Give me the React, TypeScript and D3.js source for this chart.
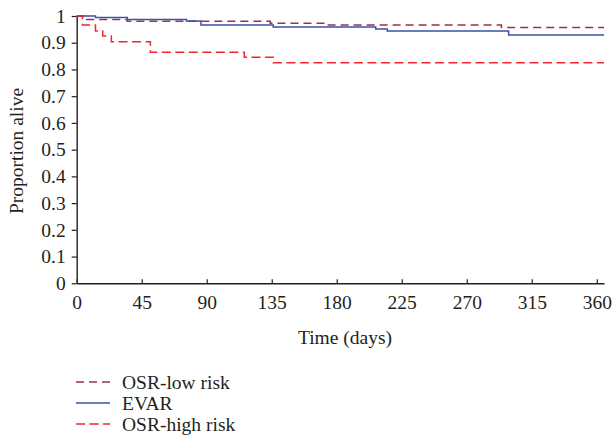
import React, { useEffect, useRef } from 'react';
import * as d3 from 'd3';

// survival steps (time in days, proportion alive)
const osrLowTimes = [0, 7, 35, 134, 171, 294, 365];
const osrLowValues = [1, 0.987, 0.98, 0.973, 0.966, 0.957, 0.957];

const evarTimes = [0, 13, 35, 76, 86, 136, 207, 215, 299, 365];
const evarValues = [1, 0.994, 0.987, 0.981, 0.966, 0.959, 0.951, 0.944, 0.929, 0.929];

const osrHighTimes = [0, 4, 13, 18, 24, 51, 116, 136, 365];
const osrHighValues = [1, 0.966, 0.944, 0.925, 0.904, 0.864, 0.846, 0.825, 0.825];

const xTicks = [0, 45, 90, 135, 180, 225, 270, 315, 360];
const yTicks = [0, 0.1, 0.2, 0.3, 0.4, 0.5, 0.6, 0.7, 0.8, 0.9, 1];

const seriesNames = ['OSR-low risk', 'EVAR', 'OSR-high risk'];

const W = 613;
const H = 446;
const FONT = '"Liberation Serif", "Times New Roman", serif';
const FS = '19.5px';
const INK = '#231f20';

const App = () => {
  const svgRef = useRef<SVGSVGElement>(null);

  useEffect(() => {
    const svg = d3.select(svgRef.current);
    svg.selectAll('*').remove();

    const x = d3.scaleLinear().domain([0, 365]).range([76.7, 604]);
    const y = d3.scaleLinear().domain([0, 1]).range([283.3, 16]);

    const series = [
      { name: seriesNames[0], t: osrLowTimes, v: osrLowValues, color: '#9b2d5e', dash: '8,5' },
      { name: seriesNames[1], t: evarTimes, v: evarValues, color: '#3a53a4', dash: null },
      { name: seriesNames[2], t: osrHighTimes, v: osrHighValues, color: '#f0262d', dash: '9,4.5' },
    ];

    const line = d3
      .line<[number, number]>()
      .x(d => x(d[0]))
      .y(d => y(d[1]))
      .curve(d3.curveStepAfter);

    // axes
    const xAxis = d3
      .axisBottom(x)
      .tickValues(xTicks)
      .tickSizeInner(-4)
      .tickSizeOuter(0)
      .tickPadding(12)
      .tickFormat(d3.format('d'));

    const yAxis = d3
      .axisLeft(y)
      .tickValues(yTicks)
      .tickSizeInner(5)
      .tickSizeOuter(0)
      .tickPadding(6)
      .tickFormat(d => (d === 0 || d === 1 ? String(d) : d3.format('.1f')(d as number)));

    const gx = svg.append('g').attr('transform', `translate(0,${y(0)})`).call(xAxis);
    const gy = svg.append('g').attr('transform', `translate(${x(0)},0)`).call(yAxis);

    [gx, gy].forEach(g => {
      g.select('.domain').attr('stroke', INK).attr('stroke-width', 1.4);
      g.selectAll('.tick line').attr('stroke', INK).attr('stroke-width', 1.2);
      g.selectAll('.tick text')
        .attr('fill', INK)
        .style('font-family', FONT)
        .style('font-size', FS);
    });

    // curves
    series.forEach(s => {
      const pts: [number, number][] = s.t.map((t, i) => [t, s.v[i]]);
      svg
        .append('path')
        .datum(pts)
        .attr('d', line)
        .attr('fill', 'none')
        .attr('stroke', s.color)
        .attr('stroke-width', 1.5)
        .attr('stroke-dasharray', s.dash);
    });

    // axis titles
    svg
      .append('text')
      .attr('x', 345)
      .attr('y', 344)
      .attr('text-anchor', 'middle')
      .attr('fill', INK)
      .style('font-family', FONT)
      .style('font-size', FS)
      .text('Time (days)');

    svg
      .append('text')
      .attr('transform', 'translate(23,151) rotate(-90)')
      .attr('text-anchor', 'middle')
      .attr('fill', INK)
      .style('font-family', FONT)
      .style('font-size', FS)
      .text('Proportion alive');

    // legend
    const legend = svg
      .selectAll('.legend')
      .data(series)
      .join('g')
      .attr('class', 'legend')
      .attr('transform', (_, i) => `translate(0,${382 + i * 21})`);

    legend
      .append('line')
      .attr('x1', 76)
      .attr('x2', 110)
      .attr('stroke', d => d.color)
      .attr('stroke-width', 1.5)
      .attr('stroke-dasharray', d => d.dash);

    legend
      .append('text')
      .attr('x', 122)
      .attr('y', 6.5)
      .attr('fill', INK)
      .style('font-family', FONT)
      .style('font-size', FS)
      .text(d => d.name);
  }, []);

  return (
    <svg
      ref={svgRef}
      width={W}
      height={H}
      style={{ position: 'absolute', left: 0, top: 0, background: '#fff' }}
    />
  );
};

export default App;
